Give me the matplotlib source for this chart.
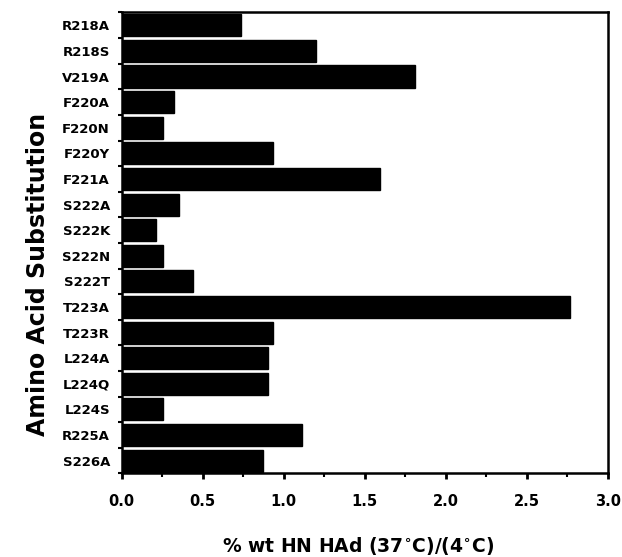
import matplotlib
matplotlib.use('Agg')
import matplotlib.pyplot as plt
import numpy as np

plt.rcParams['font.family'] = ['DejaVu Sans']
plt.rcParams['font.weight'] = 'bold'
plt.rcParams['mathtext.fontset'] = 'dejavusans'
plt.rcParams['mathtext.default'] = 'bf'

mutants = ['R218A', 'R218S', 'V219A', 'F220A', 'F220N', 'F220Y', 'F221A',
           'S222A', 'S222K', 'S222N', 'S222T', 'T223A', 'T223R', 'L224A',
           'L224Q', 'L224S', 'R225A', 'S226A']
ratio = [0.735, 1.20, 1.81, 0.325, 0.255, 0.935, 1.595,
         0.355, 0.21, 0.255, 0.44, 2.765, 0.935, 0.905,
         0.905, 0.255, 1.115, 0.87]

fig = plt.figure(figsize=(6.22, 5.57), dpi=100)
ax = fig.add_axes([0.1957, 0.150, 0.7813, 0.8276])

y = np.arange(len(mutants))
ax.barh(y, ratio, height=0.86, color='black', edgecolor='black')

ax.set_xlim(0, 3.0)
ax.set_ylim(len(mutants) - 0.5, -0.5)

ax.set_xticks(np.arange(0, 3.01, 0.5))
ax.set_xticks(np.arange(0, 3.01, 0.25), minor=True)
ax.set_xticklabels([f'{v:.1f}' for v in np.arange(0, 3.01, 0.5)])
ax.tick_params(axis='x', which='major', direction='out', length=4, width=2,
               pad=11, labelsize=10.5)
ax.tick_params(axis='x', which='minor', direction='out', length=3, width=1.5)

ax.set_yticks(y)
ax.set_yticklabels(mutants)
# short ticks sit between the bars, labels sit on the bars
ax.set_yticks(np.arange(len(mutants) + 1) - 0.5, minor=True)
ax.tick_params(axis='y', which='major', length=0, pad=8.5, labelsize=9.5)
ax.tick_params(axis='y', which='minor', direction='out', length=3, width=1.5)

for s in ax.spines.values():
    s.set_linewidth(1.8)

fig.text(38 / 622, 1 - 274 / 557, 'Amino Acid Substitution', rotation=90,
         ha='center', va='center', fontsize=17, fontweight='bold')
fig.text(358 / 622, 1 - 546 / 557,
         r'% wt HN HAd (37$^{\circ}$C)/(4$^{\circ}$C)',
         ha='center', va='center', fontsize=13.5, fontweight='bold')

fig.savefig('out.png', dpi=100)
